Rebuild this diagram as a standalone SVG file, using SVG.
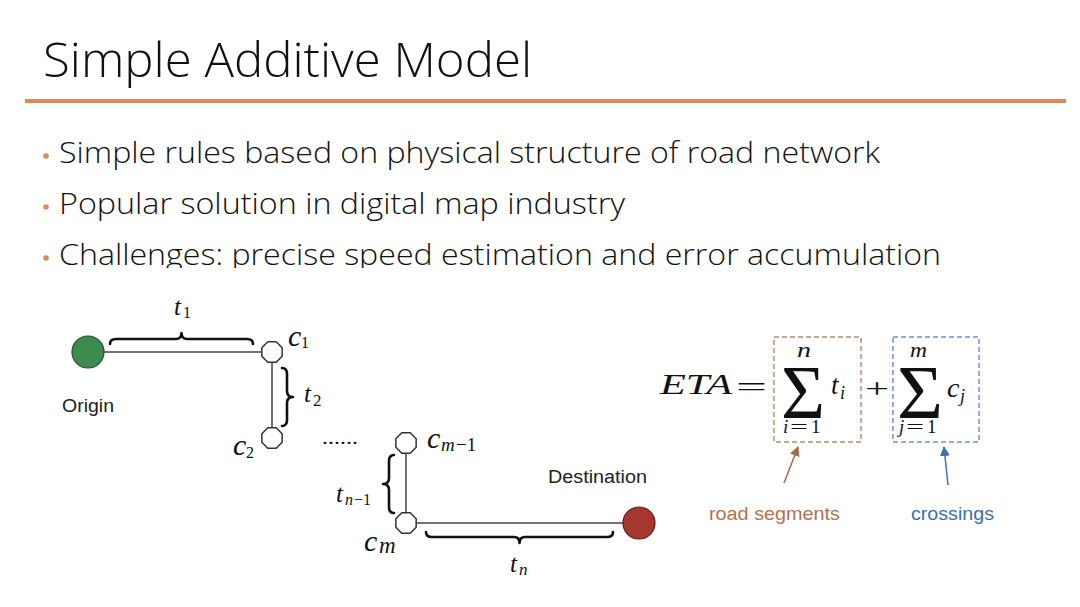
<svg xmlns="http://www.w3.org/2000/svg" width="1080" height="607" viewBox="0 0 1080 607">
<style>
.title{font-family:"Open Sans",Lato,"Liberation Sans",sans-serif;font-weight:300;font-size:48px;fill:#111;font-variant-ligatures:none;font-feature-settings:"liga" 0}
.bul{font-family:"Open Sans",Lato,"Liberation Sans",sans-serif;font-weight:300;font-size:30px;fill:#111;font-variant-ligatures:none;font-feature-settings:"liga" 0}
.sans{font-family:"Liberation Sans",Arial,sans-serif;font-size:18px;fill:#222}
.m{font-family:"Liberation Serif","Times New Roman",serif;font-style:italic;font-weight:400;fill:#111}
.r{font-family:"Liberation Serif","Times New Roman",serif;font-style:normal;font-weight:400;fill:#111}
.edge{stroke:#444;stroke-width:1.5;fill:none}
.brace{stroke:#111;stroke-width:2.6;fill:none;stroke-linecap:round;stroke-linejoin:round}
.oct{fill:#fff;stroke:#333;stroke-width:1.5}
</style>
<defs>
<polygon id="octagon" points="10.16,4.21 4.21,10.16 -4.21,10.16 -10.16,4.21 -10.16,-4.21 -4.21,-10.16 4.21,-10.16 10.16,-4.21"/>
<marker id="ahB" viewBox="0 0 10 10" refX="9" refY="5" markerWidth="10" markerHeight="10" markerUnits="userSpaceOnUse" orient="auto"><path d="M0,0 L10,5 L0,10 z" fill="#a86a48"/></marker>
<marker id="ahL" viewBox="0 0 10 10" refX="9" refY="5" markerWidth="10" markerHeight="10" markerUnits="userSpaceOnUse" orient="auto"><path d="M0,0 L10,5 L0,10 z" fill="#3f6fb5"/></marker>
<clipPath id="clip3"><rect x="0" y="225" width="1080" height="43"/></clipPath>
</defs>
<rect width="1080" height="607" fill="#fff"/>

<g id="header">
<text class="title" x="43" y="77" textLength="489" lengthAdjust="spacingAndGlyphs">Simple Additive Model</text>
<line x1="25" y1="101" x2="1066" y2="101" stroke="#d98a5e" stroke-width="4"/>
</g>

<g id="bullets">
<circle cx="46" cy="156" r="2.8" fill="#d98a5e"/>
<text class="bul" x="59" y="163" textLength="821" lengthAdjust="spacingAndGlyphs">Simple rules based on physical structure of road network</text>
<circle cx="46" cy="207" r="2.8" fill="#d98a5e"/>
<text class="bul" x="59" y="214" textLength="566" lengthAdjust="spacingAndGlyphs">Popular solution in digital map industry</text>
<circle cx="46" cy="258" r="2.8" fill="#d98a5e"/>
<text class="bul" x="59" y="265" textLength="882" lengthAdjust="spacingAndGlyphs" clip-path="url(#clip3)">Challenges: precise speed estimation and error accumulation</text>
</g>

<g id="connectors">
<path class="edge" d="M104 352 H261"/>
<path class="edge" d="M272 363 V427"/>
<path class="edge" d="M406 454 V512"/>
<path class="edge" d="M417 523 H623"/>
<path class="brace" d="M110,344 Q110,339 116,339 L176,339 Q181.5,339 181.5,333 Q181.5,339 187,339 L247,339 Q253,339 253,344"/>
<path class="brace" d="M282,368 Q287,368 287,374 L287,391 Q287,397 293,397 Q287,397 287,403 L287,420 Q287,426 282,426"/>
<path class="brace" d="M394,455 Q389,455 389,461 L389,478 Q389,484 383,484 Q389,484 389,490 L389,507 Q389,513 394,513"/>
<path class="brace" d="M426,532 Q426,537 432,537 L514,537 Q519.5,537 519.5,543 Q519.5,537 525,537 L607,537 Q613,537 613,532"/>
<line x1="784" y1="483" x2="798" y2="447" stroke="#a86a48" stroke-width="1.5" marker-end="url(#ahB)"/>
<line x1="948" y1="485" x2="944" y2="447" stroke="#3f6fb5" stroke-width="1.5" marker-end="url(#ahL)"/>
</g>

<g id="origin">
<circle cx="88" cy="352" r="16" fill="#3c8a4d" stroke="#24502d" stroke-width="1.2"/>
<text class="sans" x="62" y="412" textLength="52" lengthAdjust="spacingAndGlyphs">Origin</text>
</g>
<g id="c1">
<use href="#octagon" x="272" y="352" class="oct"/>
<text x="288" y="346"><tspan class="m" font-size="30">c</tspan><tspan class="r" font-size="16" x="301" y="348">1</tspan></text>
</g>
<g id="c2">
<use href="#octagon" x="272" y="438" class="oct"/>
<text x="233" y="455"><tspan class="m" font-size="30">c</tspan><tspan class="r" font-size="16" x="246" y="458">2</tspan></text>
</g>
<g id="dots">
<text class="r" x="322" y="444" font-size="18" textLength="36" lengthAdjust="spacingAndGlyphs">......</text>
</g>
<g id="cm1">
<use href="#octagon" x="406" y="443" class="oct"/>
<text x="427" y="448"><tspan class="m" font-size="30">c</tspan><tspan class="m" font-size="19" x="441" y="451">m</tspan><tspan class="r" font-size="19" x="456" y="451">−1</tspan></text>
</g>
<g id="cm">
<use href="#octagon" x="406" y="523" class="oct"/>
<text x="364" y="551"><tspan class="m" font-size="30">c</tspan><tspan class="m" font-size="23" x="379" y="553">m</tspan></text>
</g>
<g id="destination">
<circle cx="639" cy="523" r="16" fill="#a6372f" stroke="#5e1f1a" stroke-width="1.2"/>
<text class="sans" x="548" y="483" textLength="99" lengthAdjust="spacingAndGlyphs">Destination</text>
</g>

<g id="labels">
<text x="174" y="315"><tspan class="m" font-size="25">t</tspan><tspan class="r" font-size="16" x="183" y="318">1</tspan></text>
<text x="304" y="402"><tspan class="m" font-size="25">t</tspan><tspan class="r" font-size="17" x="313" y="406">2</tspan></text>
<text x="336" y="502"><tspan class="m" font-size="25">t</tspan><tspan class="m" font-size="16" x="345" y="505">n</tspan><tspan class="r" font-size="16" x="354" y="505">−1</tspan></text>
<text x="510" y="572"><tspan class="m" font-size="25">t</tspan><tspan class="m" font-size="17" x="519" y="575">n</tspan></text>
</g>

<g id="formula">
<text class="m" x="660" y="394" font-size="30" textLength="72" lengthAdjust="spacingAndGlyphs">ETA</text>
<text class="r" x="736" y="396" font-size="28" textLength="31" lengthAdjust="spacingAndGlyphs">=</text>
<text class="r" x="781" y="418" font-size="76" textLength="44" lengthAdjust="spacingAndGlyphs">Σ</text>
<text class="m" x="797" y="357" font-size="21" textLength="14" lengthAdjust="spacingAndGlyphs">n</text>
<text class="m" x="783" y="433" font-size="19">i</text>
<text class="r" x="790" y="433" font-size="19" textLength="18" lengthAdjust="spacingAndGlyphs">=</text>
<text class="r" x="811" y="433" font-size="19">1</text>
<text x="831" y="394"><tspan class="m" font-size="27">t</tspan><tspan class="m" font-size="18" x="840" y="399">i</tspan></text>
<text class="r" x="865" y="398" font-size="28" textLength="24" lengthAdjust="spacingAndGlyphs">+</text>
<text class="r" x="897" y="418" font-size="76" textLength="46" lengthAdjust="spacingAndGlyphs">Σ</text>
<text class="m" x="910" y="357" font-size="21" textLength="17" lengthAdjust="spacingAndGlyphs">m</text>
<text class="m" x="899" y="433" font-size="19">j</text>
<text class="r" x="906" y="433" font-size="19" textLength="18" lengthAdjust="spacingAndGlyphs">=</text>
<text class="r" x="927" y="433" font-size="19">1</text>
<text x="947" y="397"><tspan class="m" font-size="28">c</tspan><tspan class="m" font-size="18" x="960" y="402">j</tspan></text>
</g>

<g id="road-segments">
<rect x="774" y="337" width="87" height="105" fill="none" stroke="#b48d74" stroke-width="1.5" stroke-dasharray="5,3"/>
<text class="sans" x="709" y="520" style="fill:#b3714c;font-size:19px" textLength="131" lengthAdjust="spacingAndGlyphs">road segments</text>
</g>
<g id="crossings">
<rect x="893" y="337" width="86" height="105" fill="none" stroke="#7094c4" stroke-width="1.5" stroke-dasharray="5,3"/>
<text class="sans" x="911" y="520" style="fill:#3e6db0;font-size:19px" textLength="83" lengthAdjust="spacingAndGlyphs">crossings</text>
</g>
</svg>
